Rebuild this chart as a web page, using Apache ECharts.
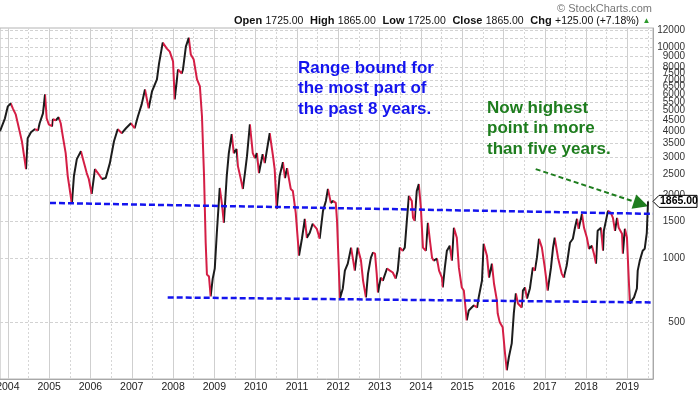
<!DOCTYPE html>
<html><head><meta charset="utf-8">
<script src="https://cdn.jsdelivr.net/npm/echarts@6/dist/echarts.min.js"></script>
<style>html,body{margin:0;padding:0;background:#fff}#c{width:700px;height:394px}</style>
</head><body><div id="c"></div>
<script>
// decimal years of each sampled close
const dates = [
2003.81,2003.93,2004.00,2004.07,2004.12,2004.19,2004.24,2004.34,2004.44,2004.48,
2004.56,2004.65,2004.73,2004.77,2004.85,2004.90,2004.94,2004.99,2005.07,2005.09,
2005.16,2005.23,2005.28,2005.33,2005.40,2005.45,2005.55,2005.60,2005.67,2005.77,
2005.82,2005.91,2005.96,2006.03,2006.11,2006.18,2006.28,2006.37,2006.47,2006.57,
2006.66,2006.76,2006.86,2006.98,2007.07,2007.15,2007.24,2007.32,2007.41,2007.49,
2007.61,2007.66,2007.75,2007.85,2007.92,2008.00,2008.04,2008.12,2008.21,2008.24,
2008.31,2008.38,2008.43,2008.50,2008.58,2008.65,2008.70,2008.75,2008.79,2008.82,
2008.87,2008.91,2008.96,2009.01,2009.06,2009.13,2009.18,2009.23,2009.30,2009.35,
2009.42,2009.47,2009.54,2009.57,2009.64,2009.69,2009.74,2009.79,2009.86,2009.93,
2009.98,2010.03,2010.08,2010.17,2010.22,2010.34,2010.42,2010.46,2010.51,2010.58,
2010.66,2010.71,2010.76,2010.85,2010.90,2010.97,2011.05,2011.12,2011.19,2011.24,
2011.31,2011.38,2011.48,2011.55,2011.63,2011.70,2011.75,2011.82,2011.87,2011.94,
2011.97,2012.04,2012.11,2012.16,2012.23,2012.31,2012.35,2012.40,2012.47,2012.55,
2012.60,2012.67,2012.72,2012.79,2012.84,2012.89,2012.93,2012.96,2013.03,2013.08,
2013.18,2013.25,2013.32,2013.39,2013.44,2013.49,2013.56,2013.61,2013.66,2013.71,
2013.78,2013.81,2013.85,2013.90,2013.95,2014.00,2014.05,2014.12,2014.17,2014.22,
2014.27,2014.31,2014.39,2014.44,2014.51,2014.53,2014.58,2014.63,2014.70,2014.75,
2014.80,2014.87,2014.92,2014.99,2015.04,2015.11,2015.16,2015.23,2015.28,2015.36,
2015.40,2015.48,2015.52,2015.60,2015.65,2015.72,2015.77,2015.84,2015.86,2015.91,
2015.98,2016.03,2016.08,2016.13,2016.20,2016.25,2016.30,2016.35,2016.44,2016.47,
2016.52,2016.57,2016.64,2016.71,2016.76,2016.81,2016.86,2016.93,2017.00,2017.07,
2017.15,2017.20,2017.24,2017.32,2017.41,2017.46,2017.53,2017.61,2017.68,2017.73,
2017.78,2017.82,2017.90,2017.95,2018.02,2018.07,2018.14,2018.19,2018.24,2018.28,
2018.36,2018.41,2018.43,2018.48,2018.53,2018.60,2018.65,2018.70,2018.75,2018.79,
2018.87,2018.89,2018.94,2018.99,2019.01,2019.06,2019.11,2019.16,2019.23,2019.25,
2019.30,2019.37,2019.42,2019.47,2019.50
];
const prices = [
4001,4605,5245,5418,5133,4809,4362,3589,2650,3708,
3958,4088,4045,4362,4861,5972,4605,4315,4223,4555,
4506,4655,4362,3790,3152,2457,1815,2457,2953,3221,
2953,2538,2378,2022,2650,2538,2378,2404,2828,3589,
4088,3915,4133,4362,4133,4706,5360,6304,5133,6170,
7026,8353,10490,9830,9515,8540,5657,7829,7496,7829,
10040,11070,9210,8724,7026,6512,4706,2457,1189,841,
823,663,805,898,1325,2158,1834,1477,2457,3152,
3873,3152,3291,2737,2378,2134,2538,3051,4315,3152,
2986,3152,2538,3118,2828,3915,3051,2650,1719,2457,
2859,2404,2679,2134,2088,1646,1033,1242,1543,1255,
1325,1461,1384,1242,1682,1874,2134,1834,1874,1834,
1509,648,723,878,947,1127,1011,878,1127,979,
788,656,850,1011,1067,1056,850,692,814,788,
898,878,860,805,878,1127,1090,1127,1509,1979,
1874,1559,1509,2088,2253,1738,1127,1090,1477,1215,
1011,979,1000,878,814,731,907,1090,1151,979,
1399,1255,907,731,707,511,569,588,601,588,
656,788,1176,1033,814,947,763,635,551,500,
474,369,297,342,398,551,685,614,588,707,
731,648,723,907,878,1011,1242,1127,907,707,
907,1127,1255,1011,850,814,927,1189,1242,1399,
1543,1384,1628,1399,1255,1114,1151,1056,947,1354,
1399,1090,1354,1509,1682,1646,1559,1354,1559,1399,
1311,1056,1384,1255,1011,614,635,656,723,878,
979,1090,1114,1325,1865
];
const yearTicks = [2004,2005,2006,2007,2008,2009,2010,2011,2012,2013,2014,2015,2016,2017,2018,2019];
const midYearTicks = [2004.5,2005.5,2006.5,2007.5,2008.5,2009.5,2010.5,2011.5,2012.5,2013.5,2014.5,2015.5,2016.5,2017.5,2018.5,2019.5];
const priceTicks = [500,1000,1500,2000,2500,3000,3500,4000,4500,5000,5500,6000,6500,7000,7500,8000,9000,10000,11000,12000];
const headerLabels = ['Open','High','Low','Close','Chg'];
const headerValues = ['1725.00','1865.00','1725.00','1865.00','+125.00 (+7.18%)'];
const lastClose = 1865;
const upperRangeDates = [2005.02, 2019.62];
const upperRangeVals = [1834, 1628];
const lowerRangeDates = [2007.87, 2019.62];
const lowerRangeVals = [656, 621];
const arrowDates = [2016.78, 2019.33];
const arrowVals = [2650, 1815];
const noteBlue = 'Range bound for\nthe most part of\nthe past 8 years.';
const noteGreen = 'Now highest\npoint in more\nthan five years.';

const FONT = '"Liberation Sans", Arial, sans-serif';
const BLACK = '#1c1c1c', RED = '#d41e45', BLUE = '#1414ee', GREEN = '#1e7d1e';
const xMin = 2003.81, xMax = 2019.62;

const chart = echarts.init(document.getElementById('c'));
const pieces = [];
for (let i = 0; i < dates.length - 1; i++) {
  const p = { gte: dates[i], color: prices[i + 1] >= prices[i] ? BLACK : RED };
  if (i === dates.length - 2) p.lte = dates[i + 1]; else p.lt = dates[i + 1];
  pieces.push(p);
}
let header = '';
headerLabels.forEach((l, i) => { header += '{b|' + l + '} {v|' + headerValues[i] + '}' + (i < headerLabels.length - 1 ? '  ' : ' '); });
header += '{t|▲}';

chart.setOption({
  animation: false,
  backgroundColor: '#fff',
  grid: { left: 0, right: 47, top: 28, bottom: 15, show: true, borderColor: '#b4b4b4', borderWidth: 1,
          containLabel: false, outerBoundsMode: 'none' },
  xAxis: [
    { type: 'value', min: xMin, max: xMax, position: 'bottom',
      axisLine: { show: true, onZero: false, lineStyle: { color: '#a8a8a8' } },
      axisTick: { show: false, customValues: yearTicks },
      axisLabel: { customValues: yearTicks, formatter: v => String(Math.round(v)), color: '#222', fontSize: 10.5, margin: 3, fontFamily: FONT,
                   showMinLabel: true, showMaxLabel: true, hideOverlap: false },
      splitLine: { show: true, lineStyle: { color: '#cfcfcf', width: 1 } } },
    { type: 'value', min: xMin, max: xMax, position: 'top',
      axisLine: { show: false }, axisTick: { show: false, customValues: midYearTicks },
      axisLabel: { show: false },
      splitLine: { show: true, lineStyle: { color: '#d6d6d6', width: 1, type: [2, 2] } } }
  ],
  yAxis: { type: 'log', logBase: 10, min: 270, max: 12300, position: 'right',
    axisLine: { show: true, lineStyle: { color: '#a8a8a8' } },
    axisTick: { show: false, customValues: priceTicks },
    axisLabel: { customValues: priceTicks, formatter: v => String(Math.round(v)), align: 'right', margin: 32, color: '#333', fontSize: 10, fontFamily: FONT,
                 showMinLabel: true, showMaxLabel: true, hideOverlap: false },
    splitLine: { show: true, lineStyle: { color: '#d2d2d2', width: 1, type: [3, 2] } } },
  visualMap: { type: 'piecewise', show: false, dimension: 0, seriesIndex: 0, pieces: pieces, outOfRange: { color: BLACK } },
  series: [
    { type: 'line', data: dates.map((d, i) => [d, prices[i]]), showSymbol: false, symbol: 'none', lineStyle: { width: 2 }, z: 5 },
    { type: 'line', data: upperRangeDates.map((d, i) => [d, upperRangeVals[i]]), symbol: 'none', itemStyle: { color: BLUE },
      lineStyle: { color: BLUE, width: 2.5, type: [6, 3] }, z: 6 },
    { type: 'line', data: lowerRangeDates.map((d, i) => [d, lowerRangeVals[i]]), symbol: 'none', itemStyle: { color: BLUE },
      lineStyle: { color: BLUE, width: 2.5, type: [6, 3] }, z: 6 },
    { type: 'line', data: [], symbol: 'none', z: 7,
      markLine: { silent: true, symbol: ['none', 'triangle'], symbolSize: 15, label: { show: false },
        lineStyle: { color: GREEN, width: 2, type: [5, 3] },
        data: [[{ coord: [arrowDates[0], arrowVals[0]] }, { coord: [arrowDates[1], arrowVals[1]] }]] } }
  ]
});

const tagY = chart.convertToPixel({ yAxisIndex: 0 }, lastClose);
const tipX = 653;
chart.setOption({
  graphic: [
    { type: 'text', right: 48, top: 3, style: { text: '© StockCharts.com', fill: '#777', fontSize: 11, fontFamily: FONT } },
    { type: 'text', left: 234, top: 15, style: { text: header, fontFamily: FONT,
        rich: { b: { fontWeight: 'bold', fontSize: 11, fill: '#111', fontFamily: FONT },
                v: { fontSize: 10.5, fill: '#111', fontFamily: FONT },
                t: { fontSize: 8, fill: '#2c9a2c' } } } },
    { type: 'text', left: 298, top: 58, style: { text: noteBlue, fill: BLUE, fontSize: 17, fontWeight: 'bold', fontFamily: FONT, lineHeight: 20.5 } },
    { type: 'text', left: 487, top: 98, style: { text: noteGreen, fill: GREEN, fontSize: 17, fontWeight: 'bold', fontFamily: FONT, lineHeight: 20.5 } },
    { type: 'polygon', z: 20, shape: { points: [[tipX, tagY], [tipX + 6, tagY - 6], [697, tagY - 6], [697, tagY + 6], [tipX + 6, tagY + 6]] },
      style: { fill: '#fff', stroke: '#000', lineWidth: 1 } },
    { type: 'text', z: 21, x: 660, y: tagY - 6, style: { text: lastClose.toFixed(2), fontSize: 10.5, fontWeight: 'bold', fill: '#000', fontFamily: FONT } }
  ]
});
</script>
</body></html>
